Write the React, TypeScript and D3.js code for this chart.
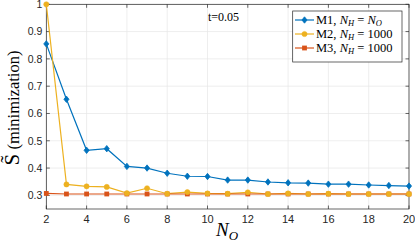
import React from "react";
import * as d3 from "d3";

const xs = [2, 3, 4, 5, 6, 7, 8, 9, 10, 11, 12, 13, 14, 15, 16, 17, 18, 19, 20];
const m1 = [0.855, 0.652, 0.465, 0.471, 0.406, 0.4, 0.381, 0.37, 0.369, 0.356, 0.356, 0.349, 0.346, 0.345, 0.341, 0.341, 0.338, 0.336, 0.334];
const m2 = [1.0, 0.34, 0.333, 0.331, 0.308, 0.326, 0.306, 0.312, 0.307, 0.306, 0.311, 0.305, 0.307, 0.305, 0.306, 0.305, 0.305, 0.305, 0.305];
const m3 = [0.307, 0.305, 0.305, 0.305, 0.305, 0.305, 0.305, 0.305, 0.305, 0.305, 0.305, 0.305, 0.305, 0.305, 0.305, 0.305, 0.305, 0.305, 0.305];
const xTicks = [2, 4, 6, 8, 10, 12, 14, 16, 18, 20];
const yTicks = [0.3, 0.4, 0.5, 0.6, 0.7, 0.8, 0.9, 1];
const colors = ["#0072BD", "#EDB120", "#D95319"];

export default function App() {
  const W = 415, H = 245;
  const L = 46.3, R = 409, T = 4.3, B = 209;
  const x = d3.scaleLinear().domain([2, 20]).range([L, R]);
  const y = d3.scaleLinear().domain([0.25, 1]).range([B, T]);
  const line = d3.line<number>().x((_, i) => x(xs[i])).y((d) => y(d));
  const series = [m1, m2, m3];
  const tickFont = "'Liberation Sans', Arial, sans-serif";
  const serif = "'Liberation Serif', 'Times New Roman', serif";

  const marker = (k: number, cx: number, cy: number, key: string) => {
    const c = colors[k];
    if (k === 0) {
      const s = 3.2;
      return <path key={key} d={`M${cx},${cy - s}L${cx + s * 0.8},${cy}L${cx},${cy + s}L${cx - s * 0.8},${cy}Z`} fill={c} stroke={c} strokeWidth={0.8} />;
    }
    if (k === 1) return <circle key={key} cx={cx} cy={cy} r={2.6} fill={c} stroke={c} strokeWidth={0.5} />;
    return <rect key={key} x={cx - 2.4} y={cy - 2.4} width={4.8} height={4.8} fill={c} />;
  };

  return (
    <svg width={W} height={H} style={{ position: "absolute", left: 0, top: 0 }}>
      <rect x={0} y={0} width={W} height={H} fill="white" />
      {xTicks.map((t) => (
        <line key={"gx" + t} x1={x(t)} x2={x(t)} y1={T} y2={B} stroke="#e6e6e6" strokeWidth={0.7} />
      ))}
      {yTicks.map((t) => (
        <line key={"gy" + t} x1={L} x2={R} y1={y(t)} y2={y(t)} stroke="#e6e6e6" strokeWidth={0.7} />
      ))}
      <rect x={L} y={T} width={R - L} height={B - T} fill="none" stroke="#262626" strokeWidth={0.7} />
      {xTicks.map((t) => (
        <g key={"tx" + t}>
          <line x1={x(t)} x2={x(t)} y1={B} y2={B - 3.5} stroke="#262626" strokeWidth={0.7} />
          <line x1={x(t)} x2={x(t)} y1={T} y2={T + 3.5} stroke="#262626" strokeWidth={0.7} />
          <text x={x(t)} y={B + 14} textAnchor="middle" fontFamily={tickFont} fontSize={11} fill="#262626">{t}</text>
        </g>
      ))}
      {yTicks.map((t) => (
        <g key={"ty" + t}>
          <line x1={L} x2={L + 3.5} y1={y(t)} y2={y(t)} stroke="#262626" strokeWidth={0.7} />
          <line x1={R} x2={R - 3.5} y1={y(t)} y2={y(t)} stroke="#262626" strokeWidth={0.7} />
          <text x={L - 4} y={y(t) + 3.8} textAnchor="end" fontFamily={tickFont} fontSize={10.5} fill="#262626">{t}</text>
        </g>
      ))}
      {series.map((s, k) => (
        <path key={"l" + k} d={line(s) || ""} fill="none" stroke={colors[k]} strokeWidth={1.2} />
      ))}
      {[...series.keys()].reverse().map((k) => (
        <g key={"m" + k}>{series[k].map((v, i) => marker(k, x(xs[i]), y(v), k + "-" + i))}</g>
      ))}
      <text x={208} y={21} fontFamily={serif} fontSize={12} fill="#000">t=0.05</text>
      <rect x={292.7} y={11} width={109.3} height={51} fill="white" stroke="#262626" strokeWidth={0.7} />
      {["M1, ", "M2, ", "M3, "].map((lab, k) => {
        const cy = 20 + k * 14;
        return (
          <g key={"lg" + k}>
            <line x1={295} x2={314} y1={cy} y2={cy} stroke={colors[k]} strokeWidth={1.2} />
            {marker(k, 304.5, cy, "lm" + k)}
            <text x={316} y={cy + 4.2} fontFamily={serif} fontSize={12.5} fill="#000">
              {lab}
              <tspan fontStyle="italic">N</tspan>
              <tspan fontStyle="italic" fontSize={8.5} dy={2.2}>H</tspan>
              <tspan dy={-2.2}>{" = "}</tspan>
              {k === 0 ? (
                <>
                  <tspan fontStyle="italic">N</tspan>
                  <tspan fontStyle="italic" fontSize={8.5} dy={2.2}>O</tspan>
                </>
              ) : (
                <tspan>1000</tspan>
              )}
            </text>
          </g>
        );
      })}
      <text x={216} y={236} fontFamily={serif} fontSize={19} fontStyle="italic" fill="#000">
        N<tspan fontSize={13} dy={4}>O</tspan>
      </text>
      <g transform="translate(19,108) rotate(-90)">
        <text x={0} y={0} textAnchor="middle" fontFamily={serif} fill="#000">
          <tspan fontSize={21}>S̃</tspan>
          <tspan fontSize={16.5}>{" (minimization)"}</tspan>
        </text>
      </g>
    </svg>
  );
}
